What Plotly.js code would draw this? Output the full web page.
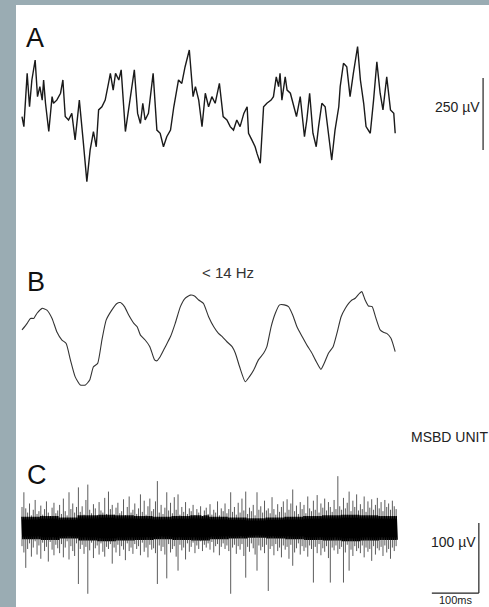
<!DOCTYPE html>
<html><head><meta charset="utf-8">
<script src="https://cdn.plot.ly/plotly-3.0.1.min.js"></script>
<style>html,body{margin:0;padding:0;background:#fff;}#plot{width:489px;height:607px;}</style>
</head><body><div id="plot"></div>
<script>
// ---- Trace A: raw field potential (ms, µV)
const tA = [0,4,11,16,21,28,33,38,43,46,50,57,64,67,74,82,87,92,99,106,113,122,130,138,145,152,158,163,170,177,184,188,194,199,206,211,220,230,239,246,252,257,262,269,279,287,294,301,308,316,323,333,340,347,356,364,369,376,383,390,397,404,411,420,428,436,443,450,457,464,472,479,482,489,496,500,507,514,521,530,535,541,546,549,553,560,564,571,578,584,592,601,606,612,619,626,631,638,645,652,659,666,674,677,684,691,698,705,714,720,727,732,741,748,755,762,768,776,784,791,794];
const vA = [12,-23,162,46,139,208,81,116,69,139,58,-40,81,58,69,93,139,12,0,23,-69,69,-69,-214,-104,-40,-93,35,46,69,127,162,104,162,139,174,-40,69,174,23,-12,58,0,23,162,-35,-46,-93,-58,-35,46,139,127,185,243,81,116,69,-23,93,46,81,58,127,12,0,-23,-35,0,-23,23,46,-46,-69,-93,-116,-150,46,58,69,81,150,116,162,69,150,104,93,46,12,81,-58,0,93,-46,-93,-23,58,46,-46,-139,-35,46,116,197,185,81,162,255,139,58,-23,-46,69,202,93,35,150,35,23,-46];

// ---- Trace B: filtered < 14 Hz (ms, µV)
const tB = [0,11,18,25,32,43,53,64,74,85,94,103,113,124,135,144,152,161,170,179,191,202,209,218,227,238,245,252,262,272,282,287,294,305,316,326,337,347,358,367,376,386,397,408,418,426,436,447,454,463,475,484,493,503,514,521,530,539,548,558,567,576,585,596,606,617,628,636,643,652,662,670,679,688,695,702,709,718,723,730,737,745,752,762,769,776,785,794];
const vB = [35,58,75,75,93,110,104,75,29,0,-12,-69,-127,-156,-156,-139,-93,-81,0,69,104,127,130,116,87,58,46,17,0,-23,-69,-72,-58,-23,12,58,116,145,156,153,139,127,81,46,23,12,-6,-23,-46,-93,-145,-127,-104,-69,-46,-23,46,93,122,122,116,87,46,12,-17,-46,-81,-102,-81,-46,-23,23,81,110,127,139,145,162,168,139,118,116,81,35,27,23,6,-40];

// ---- Trace C: MSBD unit, per-bin (4 ms) max / min (µV)
const cBinMs = 4;
const cMax = [30,51,28,22,35,18,26,40,20,24, 32,19,27,38,22,17,29,36,21,25, 33,20,42,24,18,51,27,35,22,30,
  58,23,31,19,40,62,26,21,34,28, 18,37,25,22,43,20,52,27,33,19, 29,36,21,24,41,18,30,45,22,26,
  35,20,28,48,23,39,19,31,42,24, 27,38,67,22,33,20,29,51,25,36, 21,44,26,48,19,30,23,37,20,28,
  24,33,18,27,22,31,17,25,29,20, 34,19,26,22,38,18,28,24,35,21, 27,51,23,30,19,36,22,42,25,52,
  20,29,24,33,18,51,26,31,22,39, 25,28,21,44,27,19,34,23,30,38, 22,41,26,35,55,24,32,20,37,27,
  33,21,45,28,24,39,26,47,22,35, 29,42,25,37,30,23,40,27,74,31, 26,43,28,36,52,24,39,30,48,25,
  34,27,45,23,38,29,41,26,33,43, 28,37,24,40,30,35,26,39,31,27];
const cMin = [-26,-35,-57,-30,-22,-41,-28,-19,-38,-25, -44,-21,-33,-27,-48,-20,-31,-39,-24,-29, -36,-23,-42,-28,-19,-45,-26,-33,-40,-22,
  -80,-30,-24,-37,-27,-94,-32,-21,-43,-29, -25,-38,-22,-34,-41,-27,-30,-23,-51,-28, -35,-24,-40,-26,-31,-46,-22,-33,-28,-37,
  -23,-30,-26,-39,-21,-34,-28,-42,-24,-31, -29,-36,-80,-25,-33,-27,-38,-72,-23,-35, -30,-26,-41,-61,-24,-32,-28,-45,-22,-34,
  -27,-21,-36,-25,-30,-19,-33,-24,-28,-22, -31,-20,-35,-26,-23,-39,-27,-22,-30,-25, -33,-94,-28,-24,-37,-26,-31,-23,-40,-71,
  -27,-34,-22,-29,-38,-61,-25,-32,-27,-36, -24,-90,-30,-26,-39,-23,-33,-28,-42,-25, -31,-27,-44,-24,-54,-35,-29,-22,-38,-26,
  -33,-28,-41,-25,-30,-78,-27,-36,-23,-39, -29,-34,-26,-43,-78,-28,-32,-25,-37,-30, -27,-78,-35,-24,-61,-31,-40,-26,-33,-29,
  -36,-25,-42,-28,-34,-30,-47,-26,-38,-29, -32,-27,-40,-25,-35,-30,-44,-28,-33,-26];
// dense background-activity half-width per 40 ms segment (µV)
const cCoreMs = 40;
const cCore = [16,17,15,18,19,18,17,16,17,18,16,15,14,15,16,17,18,19,18,17];

// ---- Labels and scale bars
const panelLabels = ["A", "B", "C"];
const filterLabel = "< 14 Hz";
const unitLabel = "MSBD UNIT";
const scaleA = 250;   // µV
const scaleC = 100;   // µV
const scaleT = 100;   // ms

// C: dense core (clamped zigzag) + excursions (vertical min-max segments)
const coreX = [], coreY = [], hairX = [], hairY = [];
for (let i = 0; i < cMax.length; i++) {
  const t = i * cBinMs;
  const c = cCore[Math.min(cCore.length - 1, Math.floor(t / cCoreMs))];
  coreX.push(t, t + cBinMs / 2);
  coreY.push(Math.min(cMax[i], c), Math.max(cMin[i], -c));
  hairX.push(t, t, null);
  hairY.push(cMax[i], cMin[i], null);
}

const W = 489, H = 607;
const px = x => x / W, py = y => 1 - y / H;
const barX = 981, barXC = 972;

const traces = [
  {x: tA, y: vA, type: 'scatter', mode: 'lines', line: {color: '#1a1a1a', width: 1.4}, yaxis: 'y', hoverinfo: 'skip'},
  {x: tB, y: vB, type: 'scatter', mode: 'lines', line: {color: '#333', width: 1.1, shape: 'spline', smoothing: 0.5}, yaxis: 'y2', hoverinfo: 'skip'},
  {x: hairX, y: hairY, type: 'scatter', mode: 'lines', connectgaps: false, line: {color: '#4a4a4a', width: 0.9}, yaxis: 'y3', hoverinfo: 'skip'},
  {x: coreX, y: coreY, type: 'scatter', mode: 'lines', line: {color: '#000', width: 1.6}, yaxis: 'y3', hoverinfo: 'skip'}
];

const font = 'Liberation Sans, Arial, Helvetica, sans-serif';
const layout = {
  width: W, height: H, margin: {l: 0, r: 0, t: 0, b: 0},
  paper_bgcolor: '#fff', plot_bgcolor: 'rgba(0,0,0,0)', showlegend: false,
  xaxis: {visible: false, range: [-46.8, 993.6], domain: [0, 1], fixedrange: true},
  yaxis: {visible: false, range: [-1691, 416.7], domain: [0, 1]},
  yaxis2: {visible: false, range: [-927, 1180.6], domain: [0, 1], overlaying: 'y'},
  yaxis3: {visible: false, range: [-112.9, 754.3], domain: [0, 1], overlaying: 'y'},
  shapes: [
    {type: 'rect', xref: 'paper', yref: 'paper', x0: 0, x1: px(16), y0: 0, y1: 1, fillcolor: '#9aacb3', line: {width: 0}, layer: 'below'},
    {type: 'rect', xref: 'paper', yref: 'paper', x0: 0, x1: 1, y0: py(5), y1: 1, fillcolor: '#9aacb3', line: {width: 0}, layer: 'below'},
    {type: 'line', xref: 'x', yref: 'y', x0: barX, x1: barX, y0: -104, y1: -104 + scaleA, line: {color: '#222', width: 1.2}},
    {type: 'line', xref: 'x', yref: 'y3', x0: barXC, x1: barXC, y0: -93, y1: -93 + scaleC, line: {color: '#222', width: 1.2}},
    {type: 'line', xref: 'x', yref: 'y3', x0: barXC - scaleT, x1: barXC, y0: -93, y1: -93, line: {color: '#222', width: 1.2}}
  ],
  annotations: [
    {text: panelLabels[0], xref: 'paper', yref: 'paper', x: px(24), y: py(38), xanchor: 'left', yanchor: 'middle', showarrow: false, font: {family: font, size: 27, color: '#111'}},
    {text: panelLabels[1], xref: 'paper', yref: 'paper', x: px(25), y: py(282), xanchor: 'left', yanchor: 'middle', showarrow: false, font: {family: font, size: 27, color: '#111'}},
    {text: panelLabels[2], xref: 'paper', yref: 'paper', x: px(25), y: py(475), xanchor: 'left', yanchor: 'middle', showarrow: false, font: {family: font, size: 27, color: '#111'}},
    {text: filterLabel, xref: 'paper', yref: 'paper', x: px(228), y: py(272), xanchor: 'center', yanchor: 'middle', showarrow: false, font: {family: font, size: 15, color: '#333'}},
    {text: scaleA + ' \u00b5V', xref: 'paper', yref: 'paper', x: px(482), y: py(107), xanchor: 'right', yanchor: 'middle', showarrow: false, font: {family: font, size: 14, color: '#222'}},
    {text: unitLabel, xref: 'paper', yref: 'paper', x: px(409), y: py(437), xanchor: 'left', yanchor: 'middle', showarrow: false, font: {family: font, size: 14, color: '#222'}},
    {text: scaleC + ' \u00b5V', xref: 'paper', yref: 'paper', x: px(478), y: py(542), xanchor: 'right', yanchor: 'middle', showarrow: false, font: {family: font, size: 14, color: '#222'}},
    {text: scaleT + 'ms', xref: 'paper', yref: 'paper', x: px(456), y: py(600), xanchor: 'center', yanchor: 'middle', showarrow: false, font: {family: font, size: 11, color: '#222'}}
  ]
};

Plotly.newPlot('plot', traces, layout, {staticPlot: true, displayModeBar: false});
</script></body></html>
